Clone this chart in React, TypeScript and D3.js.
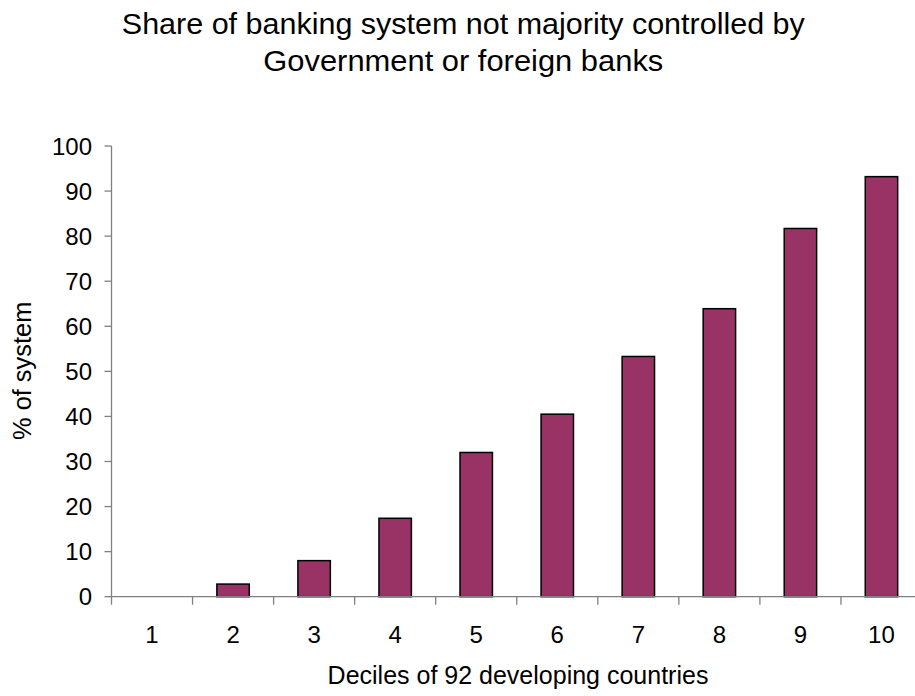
import React from "react";
import * as d3 from "d3";

// Deciles of 92 developing countries and the share of each banking system
// that is not majority controlled by government or foreign banks (%).
const deciles: string[] = ["1", "2", "3", "4", "5", "6", "7", "8", "9", "10"];
const shares: number[] = [0, 2.8, 8.0, 17.4, 32.0, 40.5, 53.3, 63.9, 81.7, 93.2];
const yTicks: number[] = [0, 10, 20, 30, 40, 50, 60, 70, 80, 90, 100];

const titleLines: string[] = [
  "Share of banking system not majority controlled by",
  "Government or foreign banks",
];
const xTitle = "Deciles of 92 developing countries";
const yTitle = "% of system";

const W = 915;
const H = 696;
const plot = { left: 111.5, right: 922, top: 146, bottom: 596.7 };
const FONT = "'Liberation Sans', Arial, sans-serif";
const AXIS = "#808080";
const BAR = "#993366";

export default function App() {
  const band = (plot.right - plot.left) / deciles.length;
  const y = d3.scaleLinear().domain([0, 100]).range([plot.bottom, plot.top]);
  const x = d3
    .scaleBand<string>()
    .domain(deciles)
    .range([plot.left, plot.right])
    .paddingInner(0.6)
    .paddingOuter(0.3);
  const center = (d: string) => (x(d) ?? 0) + x.bandwidth() / 2;
  const barW = band / 2.5;

  return (
    <svg
      width={W}
      height={H}
      style={{ position: "absolute", left: 0, top: 0, background: "#fff" }}
      fontFamily={FONT}
    >
      {/* title */}
      <text
        x={463.3}
        y={33.5}
        textAnchor="middle"
        fontSize={30}
        fill="#000"
        textLength={683}
        lengthAdjust="spacingAndGlyphs"
      >
        {titleLines[0]}
      </text>
      <text
        x={463.3}
        y={70.5}
        textAnchor="middle"
        fontSize={30}
        fill="#000"
        textLength={400}
        lengthAdjust="spacingAndGlyphs"
      >
        {titleLines[1]}
      </text>

      {/* bars */}
      {deciles.map((d, i) =>
        shares[i] > 0 ? (
          <rect
            key={d}
            x={center(d) - barW / 2}
            y={y(shares[i])}
            width={barW}
            height={y(0) - y(shares[i])}
            fill={BAR}
            stroke="#000"
            strokeWidth={1.5}
          />
        ) : null
      )}

      {/* y axis */}
      <line x1={plot.left} x2={plot.left} y1={y(100)} y2={y(0)} stroke={AXIS} strokeWidth={1.3} />
      {yTicks.map((t) => (
        <g key={t}>
          <line x1={plot.left - 7} x2={plot.left} y1={y(t)} y2={y(t)} stroke={AXIS} strokeWidth={1.3} />
          <text x={92} y={y(t)} dy="0.36em" textAnchor="end" fontSize={24} fill="#000">
            {t}
          </text>
        </g>
      ))}

      {/* x axis */}
      <line x1={plot.left} x2={plot.right} y1={y(0)} y2={y(0)} stroke={AXIS} strokeWidth={1.3} />
      {d3.range(deciles.length + 1).map((i) => (
        <line
          key={i}
          x1={plot.left + band * i}
          x2={plot.left + band * i}
          y1={y(0)}
          y2={y(0) + 8}
          stroke={AXIS}
          strokeWidth={1.3}
        />
      ))}
      {deciles.map((d) => (
        <text key={d} x={center(d)} y={643} textAnchor="middle" fontSize={24} fill="#000">
          {d}
        </text>
      ))}

      {/* axis titles */}
      <text x={518} y={684} textAnchor="middle" fontSize={25} fill="#000">
        {xTitle}
      </text>
      <text
        transform={`translate(31,${(plot.top + plot.bottom) / 2 - 0.5}) rotate(-90)`}
        textAnchor="middle"
        fontSize={25.4}
        fill="#000"
      >
        {yTitle}
      </text>
    </svg>
  );
}
